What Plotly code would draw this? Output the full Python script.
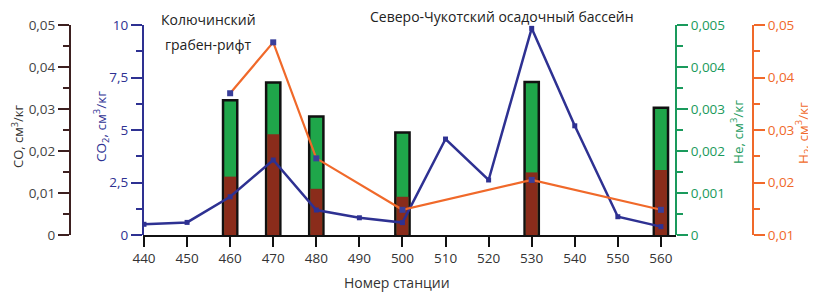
import plotly.graph_objects as go

# page offset: the browser body adds an 8px margin around the figure
OFF = 8
FW, FH = 816 - OFF, 292 - OFF

stations = [440, 450, 460, 470, 480, 490, 500, 510, 520, 530, 540, 550, 560]
co2 = [0.51, 0.60, 1.82, 3.57, 1.19, 0.82, 0.59, 4.57, 2.62, 9.84, 5.20, 0.87, 0.40]

bar_stations = [460, 470, 480, 500, 530, 560]
he = [0.00321, 0.00363, 0.00282, 0.00244, 0.00364, 0.00303]
co = [0.0139, 0.0240, 0.0110, 0.0091, 0.0149, 0.0155]

h2_stations = [460, 470, 480, 500, 530, 560]
h2 = [0.0370, 0.0467, 0.0246, 0.0148, 0.0205, 0.0148]

x_ticks = list(range(440, 561, 10))

NAVY = "#2e3192"
GREEN_AX = "#1a9a5c"
GREEN_BAR = "#1fa64a"
BROWN = "#8a2c1b"
ORANGE = "#f0692a"
CO_AX = "#3d2020"
FONT = "Open Sans"

def px_x(p):
    return (p - OFF) / FW

def px_y(p):
    return 1 - (p - OFF) / FH

x0, x1 = 143, 676
y_top, y_bot = 25, 235
xdom = [px_x(x0), px_x(x1)]
ydom = [px_y(y_bot), px_y(y_top)]

bw = 3.3
bw_in = 2.8

fig = go.Figure()
# He bars (base axis y)
fig.add_trace(go.Bar(x=bar_stations, y=he, yaxis="y", width=bw,
                     marker=dict(color=GREEN_BAR, line=dict(color="#111111", width=2.5)),
                     showlegend=False))
# CO bars
fig.add_trace(go.Bar(x=bar_stations, y=co, yaxis="y2", width=bw_in,
                     marker=dict(color=BROWN, line=dict(width=0)),
                     showlegend=False))
# CO2 line
fig.add_trace(go.Scatter(x=stations, y=co2, yaxis="y3", mode="lines+markers",
                         line=dict(color=NAVY, width=2.5),
                         marker=dict(symbol="square", size=5, color=NAVY),
                         showlegend=False))
# H2 line
fig.add_trace(go.Scatter(x=h2_stations, y=h2, yaxis="y4", mode="lines+markers",
                         line=dict(color=ORANGE, width=2.2),
                         marker=dict(symbol="square", size=6, color="#3a3f9a"),
                         showlegend=False))

TS = 13.5

fig.update_layout(
    width=FW, height=FH,
    margin=dict(l=0, r=0, t=0, b=0, autoexpand=False),
    paper_bgcolor="white", plot_bgcolor="white",
    separators=", ",
    barmode="overlay",
    font=dict(family=FONT, size=12, color="#333333"),
    xaxis=dict(domain=xdom, range=[439.77, 563.5], tickvals=x_ticks, automargin=False,
               showline=True, linecolor="#111111", linewidth=1.5,
               ticks="outside", ticklen=10, tickcolor="#111111", tickwidth=1.5,
               showgrid=False, zeroline=False, anchor="y",
               tickfont=dict(family=FONT, size=TS, color="#333333")),
    yaxis=dict(domain=ydom, range=[0, 0.005], dtick=0.001, anchor="free", automargin=False,
               position=px_x(676), side="right",
               showline=True, linecolor=GREEN_AX, linewidth=2,
               ticks="outside", ticklen=11, tickcolor=GREEN_AX, tickwidth=1.5,
               minor=dict(dtick=0.0005, ticks="outside", ticklen=6, tickcolor=GREEN_AX),
               showgrid=False, zeroline=False,
               tickfont=dict(family=FONT, size=TS, color=GREEN_AX)),
    yaxis2=dict(domain=ydom, range=[0, 0.05], dtick=0.01, anchor="free", automargin=False,
                overlaying="y", position=px_x(70), side="left",
                showline=True, linecolor=CO_AX, linewidth=2,
                ticks="outside", ticklen=11, tickcolor=CO_AX, tickwidth=1.5,
                minor=dict(dtick=0.005, ticks="outside", ticklen=6, tickcolor=CO_AX),
                showgrid=False, zeroline=False,
                tickfont=dict(family=FONT, size=TS, color="#444444")),
    yaxis3=dict(domain=ydom, range=[0, 10], dtick=2.5, anchor="free", automargin=False,
                overlaying="y", position=px_x(143), side="left",
                showline=True, linecolor=NAVY, linewidth=2,
                ticks="outside", ticklen=11, tickcolor=NAVY, tickwidth=1.5,
                minor=dict(dtick=1.25, ticks="outside", ticklen=6, tickcolor=NAVY),
                showgrid=False, zeroline=False,
                tickfont=dict(family=FONT, size=TS, color=NAVY)),
    yaxis4=dict(domain=ydom, range=[0.01, 0.05], dtick=0.01, anchor="free", automargin=False,
                overlaying="y", position=px_x(753), side="right",
                showline=True, linecolor=ORANGE, linewidth=2,
                ticks="outside", ticklen=11, tickcolor=ORANGE, tickwidth=1.5,
                minor=dict(dtick=0.005, ticks="outside", ticklen=6, tickcolor=ORANGE),
                showgrid=False, zeroline=False,
                tickfont=dict(family=FONT, size=TS, color=ORANGE)),
)

def ann(text, x, y, color="#222222", size=13.5, angle=0):
    fig.add_annotation(text=text, x=px_x(x), y=px_y(y), xref="paper", yref="paper",
                       showarrow=False, textangle=angle, xanchor="center", yanchor="middle",
                       font=dict(family=FONT, size=size, color=color))

ann("CO, см<sup>3</sup>/кг", 17, 137, color="#333333", size=13, angle=-90)
ann("CO<sub>2</sub>, см<sup>3</sup>/кг", 101, 127, color=NAVY, size=13.5, angle=-90)
ann("He, см<sup>3</sup>/кг", 737, 132, color=GREEN_AX, size=13.5, angle=-90)
ann("H<sub>2</sub>, см<sup>3</sup>/кг", 803, 133, color=ORANGE, size=13.5, angle=-90)
ann("Номер станции", 397, 282, color="#333333", size=14)
ann("Колючинский", 208, 20, size=14)
ann("грабен-рифт", 208, 44, size=14)
ann("Северо-Чукотский осадочный бассейн", 502, 17, size=14)

fig.write_html("out.html")
